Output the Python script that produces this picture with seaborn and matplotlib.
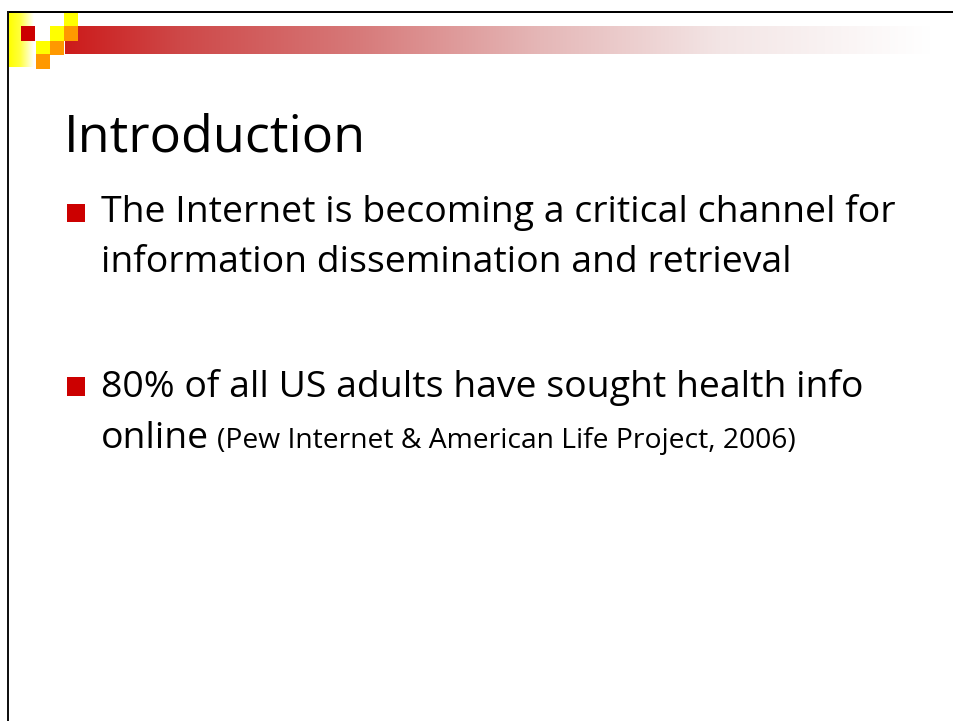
import matplotlib
matplotlib.use("Agg")
import matplotlib.pyplot as plt
import numpy as np
import seaborn as sns
from matplotlib.patches import Rectangle

# ---- slide content ----
title = "Introduction"
bullet1_lines = ["The Internet is becoming a critical channel for",
                 "information dissemination and retrieval"]
bullet2_lines = ["80% of all US adults have sought health info",
                 "online"]
citation = "(Pew Internet & American Life Project, 2006)"

# decorative colours
red = "#CC0000"
yellow = "#FFFF00"
orange = "#FF9900"

sns.set_theme(style="white")
plt.rcParams['font.family'] = ['Open Sans', 'DejaVu Sans']
plt.rcParams['text.color'] = 'black'

W, H = 954, 721
fig = plt.figure(figsize=(W / 100, H / 100), dpi=100)
ax = fig.add_axes([0, 0, 1, 1])
ax.set_xlim(0, W)
ax.set_ylim(H, 0)
ax.axis('off')

# ---- red gradient bar ----
stops_x = np.array([65, 180, 360, 540, 720, 930, 954])
stops_c = np.array([[204, 26, 26], [206, 72, 72], [215, 122, 122],
                    [229, 183, 183], [243, 229, 229], [255, 255, 255],
                    [255, 255, 255]]) / 255.0
xs = np.arange(65, 954) + 0.5
grad = np.stack([np.interp(xs, stops_x, stops_c[:, k]) for k in range(3)], axis=-1)
ax.imshow(grad[None, :, :], extent=[65, 954, 54, 26], aspect='auto',
          interpolation='bilinear', zorder=1)

# ---- yellow fading corner ----
ys_x = np.array([9, 20, 34])
ys_c = np.array([[255, 255, 0], [255, 255, 60], [255, 255, 255]]) / 255.0
xy = np.arange(9, 35) + 0.5
ygrad = np.stack([np.interp(xy, ys_x, ys_c[:, k]) for k in range(3)], axis=-1)
ax.imshow(ygrad[None, :, :], extent=[9, 35, 67, 13], aspect='auto',
          interpolation='bilinear', zorder=1)

# ---- squares ----
cell = 14.5
for (cx, cy, col) in [(64, 12.5, yellow), (50, 26, yellow), (36, 40.5, yellow),
                      (64, 26, orange), (50, 40.5, orange), (36, 54, orange),
                      (21, 26, red)]:
    ax.add_patch(Rectangle((cx, cy), cell, cell, facecolor=col, edgecolor='none', zorder=3))

# ---- slide border ----
ax.add_patch(Rectangle((7, 10.8), W - 7, 2.6, facecolor='black', edgecolor='none', zorder=4))
ax.add_patch(Rectangle((7, 10.8), 2.4, H - 10.8, facecolor='#111111', edgecolor='none', zorder=4))

# ---- title ----
ax.text(64, 152, title, fontsize=37.5, color='black', va='baseline', ha='left')

# ---- bullets ----
body_fs = 26.9
for by in [203.5, 377]:
    ax.add_patch(Rectangle((67, by), 18.5, 18.5, facecolor=red, edgecolor='none', zorder=3))

ax.text(101, 222, bullet1_lines[0], fontsize=body_fs, color='black', va='baseline', ha='left')
ax.text(101, 272, bullet1_lines[1], fontsize=body_fs, color='black', va='baseline', ha='left')
ax.text(101, 397, bullet2_lines[0], fontsize=body_fs, color='black', va='baseline', ha='left')
t_on = ax.text(101, 448, bullet2_lines[1], fontsize=body_fs, color='black', va='baseline', ha='left')

fig.canvas.draw()
bb = t_on.get_window_extent()
ax.text(bb.x1 + 8, 448, citation, fontsize=20.3, color='black', va='baseline', ha='left')

fig.savefig("out.png", dpi=100)
